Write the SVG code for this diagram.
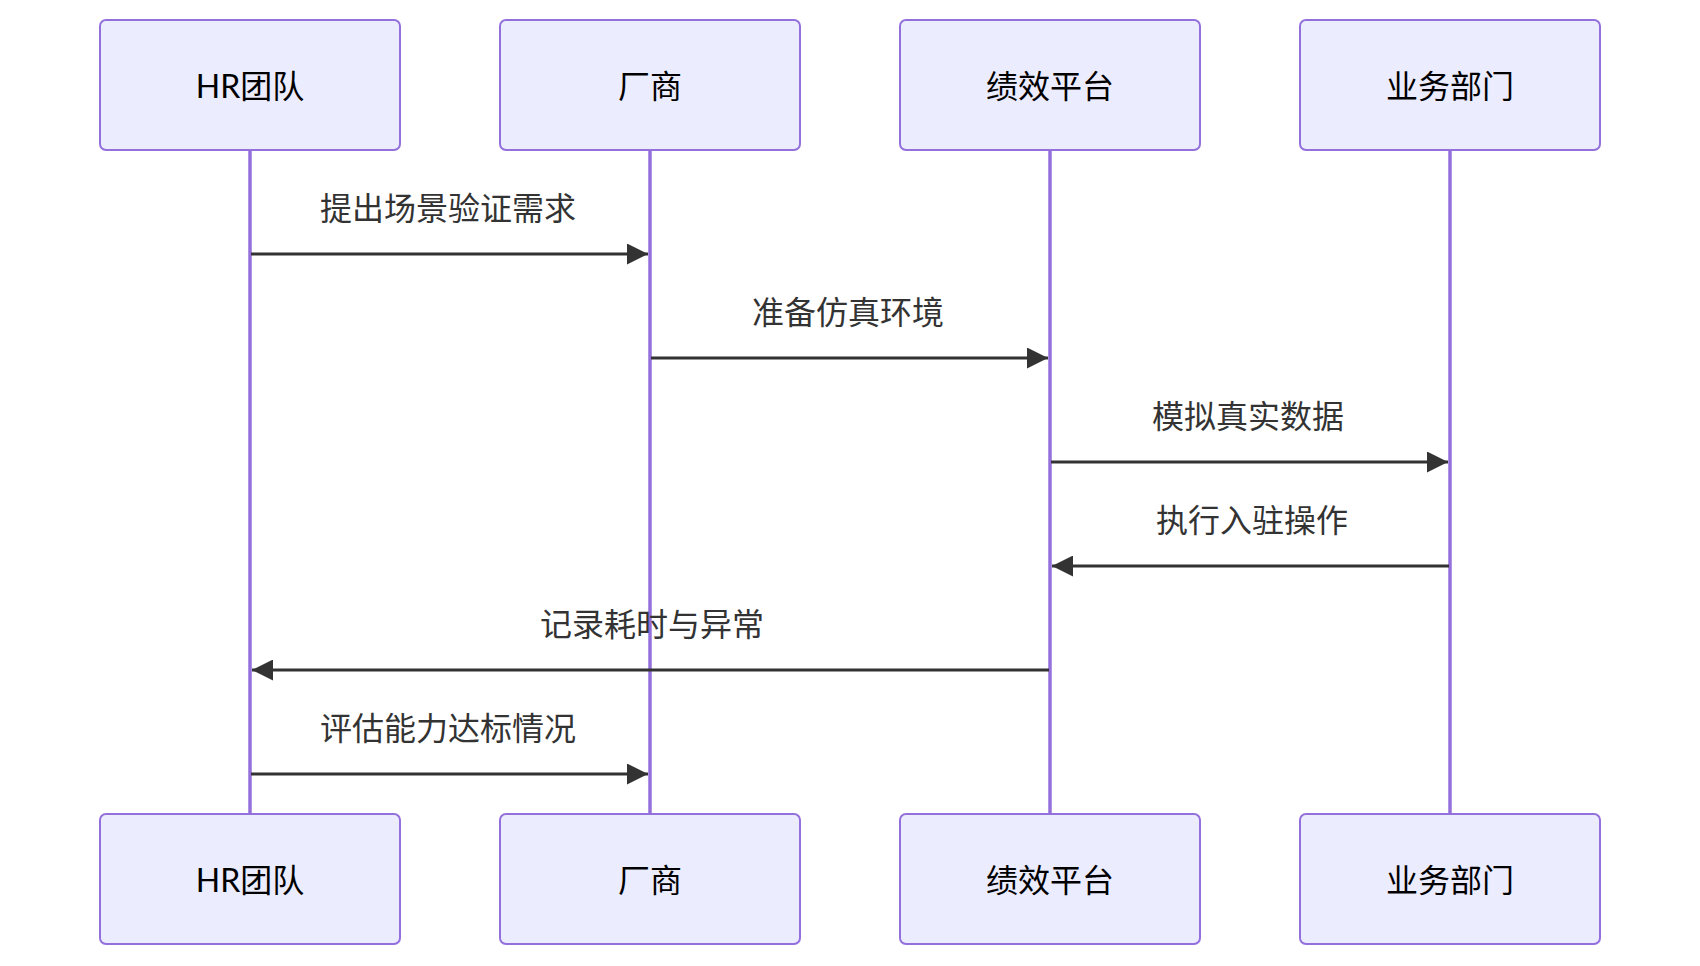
<svg xmlns="http://www.w3.org/2000/svg" width="1700" height="966" viewBox="0 0 1700 966">
<style>
.actor rect{fill:#ECECFF;stroke:#9370DB;stroke-width:2}
.actor text{font-family:"Lato","Noto Sans CJK SC",sans-serif;font-size:32px;fill:#000;text-anchor:middle;dominant-baseline:central}
.life{stroke:#9370DB;stroke-width:3.5}
.msg{stroke:#333;stroke-width:3;fill:none}
.lbl{font-family:"Noto Sans CJK SC",sans-serif;font-size:32px;fill:#333;text-anchor:middle;dominant-baseline:central}
</style>
<defs>
<marker id="ah" viewBox="0 0 10 10" markerUnits="userSpaceOnUse" markerWidth="22" markerHeight="21" refX="10" refY="5" orient="auto">
<path d="M0 0L10 5L0 10z" fill="#333"/>
</marker>
</defs>
<g id="lifelines">
<line class="life" x1="250" y1="150" x2="250" y2="814"/>
<line class="life" x1="650" y1="150" x2="650" y2="814"/>
<line class="life" x1="1050" y1="150" x2="1050" y2="814"/>
<line class="life" x1="1450" y1="150" x2="1450" y2="814"/>
</g>
<g id="actor-hr-top" class="actor"><rect x="100" y="20" width="300" height="130" rx="6"/><text x="250" y="85">HR团队</text></g>
<g id="actor-vendor-top" class="actor"><rect x="500" y="20" width="300" height="130" rx="6"/><text x="650" y="85">厂商</text></g>
<g id="actor-platform-top" class="actor"><rect x="900" y="20" width="300" height="130" rx="6"/><text x="1050" y="85">绩效平台</text></g>
<g id="actor-biz-top" class="actor"><rect x="1300" y="20" width="300" height="130" rx="6"/><text x="1450" y="85">业务部门</text></g>
<g id="actor-hr-bottom" class="actor"><rect x="100" y="814" width="300" height="130" rx="6"/><text x="250" y="879">HR团队</text></g>
<g id="actor-vendor-bottom" class="actor"><rect x="500" y="814" width="300" height="130" rx="6"/><text x="650" y="879">厂商</text></g>
<g id="actor-platform-bottom" class="actor"><rect x="900" y="814" width="300" height="130" rx="6"/><text x="1050" y="879">绩效平台</text></g>
<g id="actor-biz-bottom" class="actor"><rect x="1300" y="814" width="300" height="130" rx="6"/><text x="1450" y="879">业务部门</text></g>
<g id="connectors">
<line class="msg" x1="251" y1="254" x2="648" y2="254" marker-end="url(#ah)"/>
<line class="msg" x1="651" y1="358" x2="1048" y2="358" marker-end="url(#ah)"/>
<line class="msg" x1="1051" y1="462" x2="1448" y2="462" marker-end="url(#ah)"/>
<line class="msg" x1="1449" y1="566" x2="1052" y2="566" marker-end="url(#ah)"/>
<line class="msg" x1="1049" y1="670" x2="252" y2="670" marker-end="url(#ah)"/>
<line class="msg" x1="251" y1="774" x2="648" y2="774" marker-end="url(#ah)"/>
</g>
<g id="labels">
<text class="lbl" x="448" y="206">提出场景验证需求</text>
<text class="lbl" x="848" y="310">准备仿真环境</text>
<text class="lbl" x="1248" y="414">模拟真实数据</text>
<text class="lbl" x="1252" y="518">执行入驻操作</text>
<text class="lbl" x="652" y="622">记录耗时与异常</text>
<text class="lbl" x="448" y="726">评估能力达标情况</text>
</g>
</svg>
